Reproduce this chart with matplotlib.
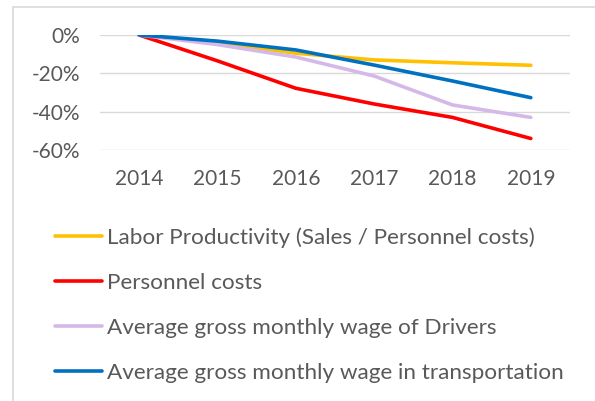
import matplotlib.pyplot as plt
from matplotlib.patches import Rectangle
from matplotlib.ticker import FuncFormatter

years = ['2014', '2015', '2016', '2017', '2018', '2019']
labor_productivity = [0, -4, -9.5, -13, -14.5, -15.8]
personnel_costs = [0, -13.5, -27.8, -36, -43, -54]
wage_drivers = [0, -5, -11.5, -21.4, -36.5, -43]
wage_transport = [0, -3.2, -7.8, -15.7, -24, -32.7]

series = [
    ('Labor Productivity (Sales / Personnel costs)', labor_productivity, '#FFC000'),
    ('Personnel costs', personnel_costs, '#FF0000'),
    ('Average gross monthly wage of Drivers', wage_drivers, '#D4B9E8'),
    ('Average gross monthly wage in transportation', wage_transport, '#0070C0'),
]

plt.rcParams['font.family'] = ['Lato', 'DejaVu Sans']
text_color = '#595959'

W, H = 595, 401
fig = plt.figure(figsize=(W / 100, H / 100), dpi=100)
ax = fig.add_axes([100 / W, 1 - 150 / H, 470 / W, 115 / H])

x = range(len(years))
handles = []
for label, vals, color in series:
    ln, = ax.plot(x, vals, color=color, lw=2.6, label=label, solid_capstyle='round')
    handles.append(ln)

ax.set_xlim(-0.5, len(years) - 0.5)
ax.set_ylim(-60, 0)
ax.set_yticks([0, -20, -40, -60])
ax.yaxis.set_major_formatter(FuncFormatter(lambda v, p: f'{v:.0f}%'))
ax.set_xticks(list(x))
ax.set_xticklabels(years)
ax.grid(axis='y', color='#d9d9d9', lw=1)
ax.set_axisbelow(True)
for s in ax.spines.values():
    s.set_visible(False)
ax.tick_params(length=0, labelsize=15, colors=text_color, pad=14)
ax.tick_params(axis='x', pad=14)

leg = fig.legend(handles=handles, loc='upper left', bbox_to_anchor=(46 / W, 1 - 218 / H),
                 frameon=False, fontsize=16.2, handlelength=2.1, handletextpad=0.2,
                 labelspacing=1.12, borderaxespad=0)
for t in leg.get_texts():
    t.set_color(text_color)

fig.patches.append(Rectangle((13 / W, -0.01), 1, 1 - 7 / H + 0.01, transform=fig.transFigure,
                             fill=False, edgecolor='#d9d9d9', lw=1.2))

fig.savefig('out.png', dpi=100)
